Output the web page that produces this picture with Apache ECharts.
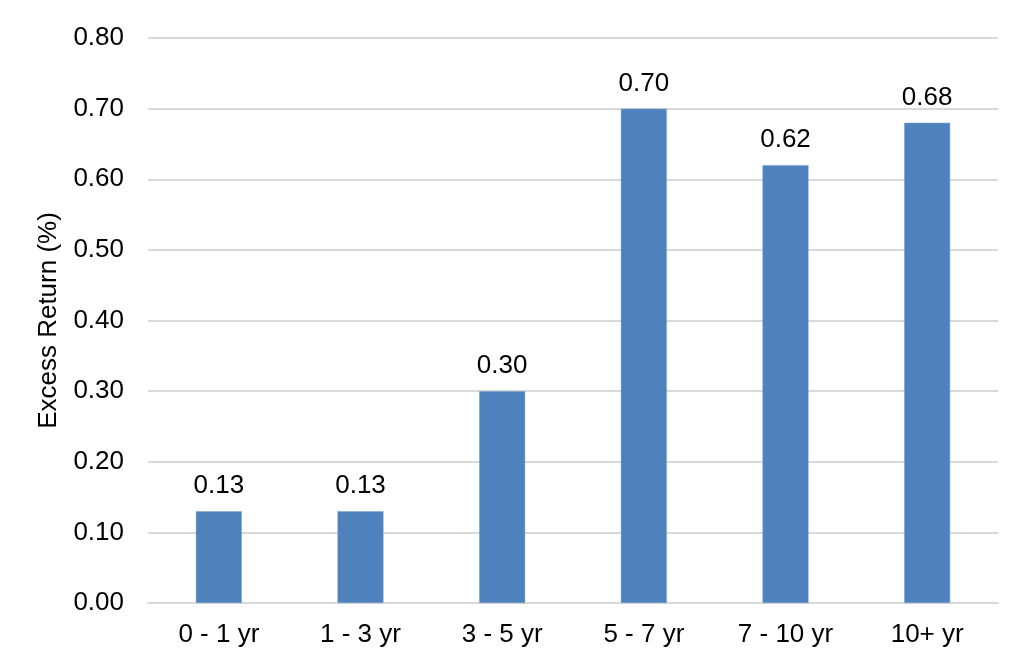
<!DOCTYPE html>
<html><head><meta charset="utf-8">
<script src="https://cdn.jsdelivr.net/npm/echarts@6/dist/echarts.min.js"></script>
<style>html,body{margin:0;padding:0;background:#fff}#c{width:1024px;height:668px}</style>
</head><body><div id="c"></div>
<script>
var categories = ['0 - 1 yr', '1 - 3 yr', '3 - 5 yr', '5 - 7 yr', '7 - 10 yr', '10+ yr'];
var values = [0.13, 0.13, 0.30, 0.70, 0.62, 0.68];
var yAxisName = 'Excess Return (%)';

var chart = echarts.init(document.getElementById('c'));
var font = '"Liberation Sans", Arial, sans-serif';
chart.setOption({
  animation: false,
  backgroundColor: '#fff',
  grid: {left: 148, right: 26, top: 38, bottom: 65, containLabel: false},
  xAxis: {
    type: 'category', data: categories,
    axisLine: {show: true, lineStyle: {color: '#d9d9d9', width: 2}},
    axisTick: {show: false},
    axisLabel: {color: '#000', fontSize: 26, fontFamily: font, margin: 19}
  },
  yAxis: {
    type: 'value', min: 0, max: 0.8, interval: 0.1,
    name: yAxisName, nameLocation: 'middle', nameGap: 86,
    nameTextStyle: {color: '#000', fontSize: 26, fontFamily: font},
    axisLine: {show: false}, axisTick: {show: false},
    splitLine: {lineStyle: {color: '#d9d9d9', width: 2}},
    axisLabel: {color: '#000', fontSize: 26, fontFamily: font, margin: 24,
      formatter: function (v) { return v.toFixed(2); }}
  },
  series: [{
    type: 'bar', data: values, barWidth: 46,
    itemStyle: {color: '#4f81bd', borderColor: '#7da2d0', borderWidth: 0.5},
    label: {show: true, position: 'top', distance: 12, color: '#000', fontSize: 26, fontFamily: font,
      formatter: function (p) { return p.value.toFixed(2); }}
  }]
});
</script></body></html>
